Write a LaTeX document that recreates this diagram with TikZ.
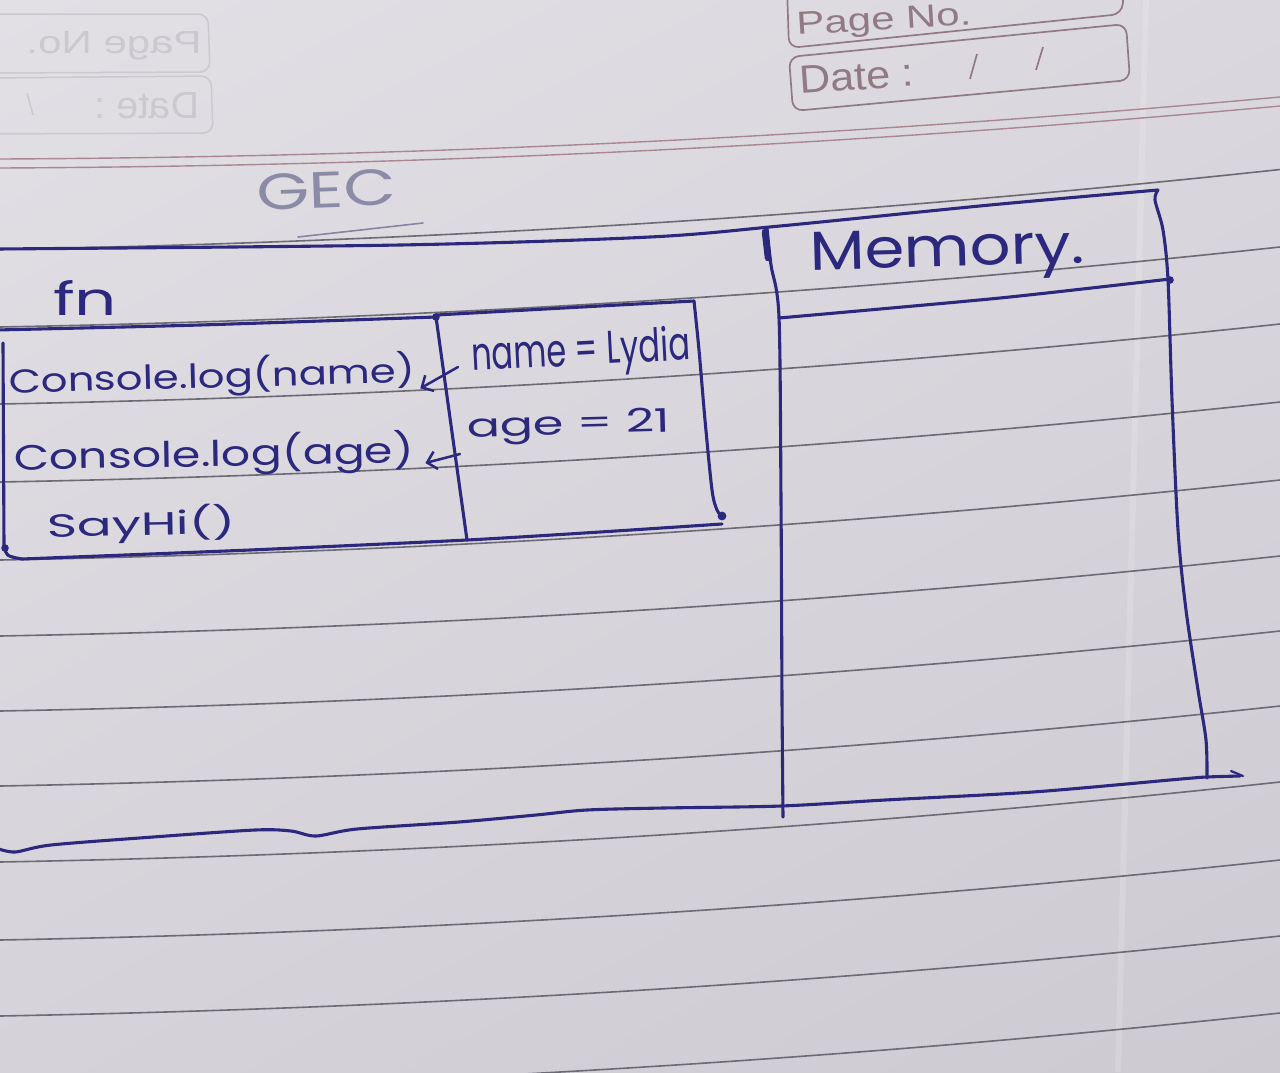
\documentclass[tikz,border=0pt]{standalone}
\usepackage{fontspec}
\usetikzlibrary{arrows.meta,calc,shadings}
\newfontfamily\handfont{Poppins}
\newfontfamily\printfont{Liberation Sans}

\definecolor{ink}{RGB}{44,40,126}
\definecolor{pencil}{RGB}{96,96,138}
\definecolor{rule}{RGB}{108,106,114}
\definecolor{margin}{RGB}{170,134,144}
\definecolor{printed}{RGB}{146,122,132}
\definecolor{ghost}{RGB}{203,200,206}
\definecolor{paperA}{RGB}{226,224,229}
\definecolor{paperB}{RGB}{218,216,222}
\definecolor{paperC}{RGB}{213,211,217}
\definecolor{paperD}{RGB}{205,203,209}

% text squeezed into a given width and height (in pt)
\newcommand\fitted[3]{\resizebox{#1pt}{#2pt}{#3}}

\tikzset{
  inkline/.style={draw=ink, line width=3.1pt, line cap=round, line join=round},
  inktext/.style={text=ink, inner sep=0pt, anchor=base west, font=\handfont},
  ruledline/.style={draw=rule, line width=1.6pt},
  marginline/.style={draw=margin, line width=1.4pt},
  printbox/.style={draw=printed, line width=1.7pt, rounded corners=10pt},
  printtext/.style={text=printed, inner sep=0pt, anchor=base west, font=\printfont},
  ghostline/.style={draw=ghost, line width=1.5pt, rounded corners=10pt},
  ghosttext/.style={text=ghost, inner sep=0pt, font=\printfont},
  inkarrow/.style={draw=ink, line width=2.5pt, line cap=round,
    -{Straight Barb[length=9pt,width=18pt,line width=2.5pt]}},
}

\begin{document}
\begin{tikzpicture}[x=1pt,y=-1pt]
\useasboundingbox (0,0) rectangle (1280,1072);
\clip (0,0) rectangle (1280,1072);

% paper
\shade[upper left=paperA, upper right=paperB, lower left=paperC, lower right=paperD]
  (0,0) rectangle (1280,1072);
\draw[white, opacity=0.15, line width=6pt] (1118,1072) -- (1146,0);

% ruled lines of the page
\foreach \y in {249.5,327,404,482,560,636,711,786,862,940,1016,1093}
  \draw[ruledline] (0,\y) .. controls (426.7,\y-8) and (853.3,\y-34) .. (1280,\y-80);
\foreach \y in {159,168}
  \draw[marginline] (0,\y) .. controls (426.7,\y-2) and (853.3,\y-23) .. (1280,\y-62);

% printed header boxes
\draw[printbox] (787,-12) -- (789,48) -- (1122,14) -- (1124,-12);
\draw[printbox] (789,57) -- (1126,24) -- (1130,80) -- (793,111) -- cycle;
\node[printtext, rotate=3.4] (pageno) at (797,35) {\fitted{175}{22}{Page No.}};
\node[printtext, rotate=4] (datefield) at (800,94) {\fitted{115}{27}{Date :}};
\draw[printed, line width=1.7pt] (970,79) -- (977,54);
\draw[printed, line width=1.7pt] (1036,70) -- (1043,47);

% header of the facing page showing through
\draw[ghostline] (-12,14) -- (208,14) -- (210,72) -- (-12,73);
\draw[ghostline] (-12,78) -- (211,76) -- (213,133) -- (-12,134);
\node[ghosttext] (ghostpage) at (114,46) {\scalebox{-1}[1]{\fitted{175}{22}{Page No.}}};
\node[ghosttext] (ghostdate) at (147,106) {\scalebox{-1}[1]{\fitted{104}{26}{Date :}}};
\draw[ghost, line width=1.5pt] (27,93) -- (33,115);

% GEC heading
\node[inktext, text=pencil, opacity=0.65, rotate=2] (gec) at (257,210) {\fitted{140}{36}{GEC}};
\draw[pencil, line width=1.6pt, line cap=round, opacity=0.7] (298,237) -- (423,223);

% long band lines
\draw[inkline] plot[smooth, tension=0.5] coordinates
  {(-4,249) (400,245) (650,237) (780,226) (990,205) (1158,190)};
\draw[inkline] plot[smooth, tension=0.5] coordinates
  {(-4,848) (15,852) (51,845) (153,837) (255,830) (291,831) (316,836) (357,829)
   (459,822) (536,815) (587,810) (663,808) (781,806) (885,800) (1033,792)
   (1181,779) (1207,777) (1240,776)};
\draw[inkline, line width=2.2pt] (1231,771) -- (1243,776);

% fn box
\draw[inkline] plot[smooth, tension=0.4] coordinates {(-4,330) (200,325) (436,317)};
\draw[inkline] plot[smooth, tension=0.4] coordinates {(436,315) (600,306) (694,301)};
\draw[inkline] plot[smooth, tension=0.5] coordinates {(436,317) (451,425) (467,540)};
\draw[inkline] (3,343) -- (4,545) .. controls (6,556) .. (22,559);
\draw[inkline] plot[smooth, tension=0.4] coordinates {(22,559) (250,550) (467,540) (600,532) (722,524)};
\draw[inkline] plot[smooth, tension=0.5] coordinates {(694,301) (699,350) (705,420) (712,490) (717,510) (722,516)};
\fill[ink] (436,317) circle (3.8);
\fill[ink] (5,548) circle (3.8);
\fill[ink] (722,516) circle (4.4);

% memory box
\draw[inkline] plot[smooth, tension=0.5] coordinates
  {(767,228) (771,265) (779,317) (781,500) (782,700) (783,817)};
\draw[ink, line width=6.5pt, line cap=round] (765,232) -- (768,258);
\draw[inkline] plot[smooth, tension=0.4] coordinates {(779,318) (1000,298) (1170,279)};
\fill[ink] (1170,280) circle (3.8);
\draw[inkline] plot[smooth, tension=0.5] coordinates
  {(1158,190) (1155,200) (1163,230) (1168,280) (1172,400) (1178,530) (1186,610) (1198,690) (1206,740) (1207,778)};

% handwritten entries
\node[inktext] (fnlabel) at (53,315) {\fitted{64}{35}{fn}};
\node[inktext, rotate=1.5] (log1) at (9,393) {\fitted{406}{31}{Console.log(name)}};
\node[inktext, rotate=1] (log2) at (14,470) {\fitted{400}{33}{Console.log(age)}};
\node[inktext, rotate=1] (sayhi) at (47,537) {\fitted{189}{30}{SayHi()}};
\node[inktext, rotate=3] (namevar) at (472,371) {\fitted{219}{35}{name = Lydia}};
\node[inktext, rotate=1.5] (agevar) at (467,437) {\fitted{203}{24}{age = 21}};
\node[inktext, rotate=1.5] (memlabel) at (810,270) {\fitted{275}{38}{Memory.}};

% lookups from the log calls to the stored values
\draw[inkarrow] ($(namevar.base west)+(-14,-4)$) -- ($(log1.base east)+(5,6)$);
\draw[inkarrow] ($(agevar.base west)+(-7,17)$) -- ($(log2.base east)+(11,0)$);
\end{tikzpicture}
\end{document}
